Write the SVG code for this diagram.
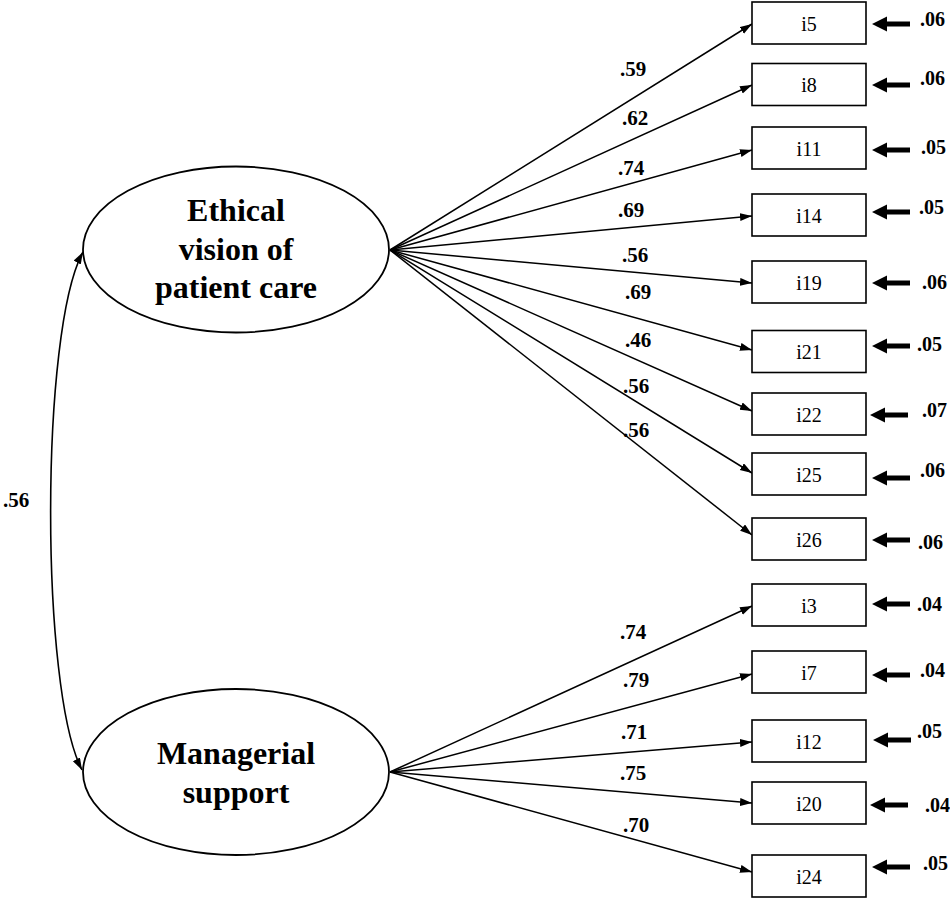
<svg xmlns="http://www.w3.org/2000/svg" width="950" height="899" viewBox="0 0 950 899">
  <style>
    .latent { fill: #fff; stroke: #000; stroke-width: 1.8; }
    .latent-label { font-family: "Liberation Serif", "Times New Roman", serif; font-weight: bold; font-size: 32px; text-anchor: middle; fill: #000; }
    .item { fill: #fff; stroke: #000; stroke-width: 1.6; }
    .item-label { font-family: "Liberation Serif", "Times New Roman", serif; font-size: 20px; text-anchor: middle; fill: #000; }
    .load { fill: none; stroke: #000; stroke-width: 1.5; marker-end: url(#tip); }
    .coef { font-family: "Liberation Serif", "Times New Roman", serif; font-weight: bold; font-size: 21px; fill: #000; }
    .err { font-family: "Liberation Serif", "Times New Roman", serif; font-weight: bold; font-size: 20px; fill: #000; }
    .cov { fill: none; stroke: #000; stroke-width: 1.6; marker-start: url(#tipStart); marker-end: url(#tip); }
  </style>
  <defs>
    <marker id="tip" markerUnits="userSpaceOnUse" markerWidth="13" markerHeight="9" refX="12" refY="4" orient="auto">
      <path d="M0,0 L12,4 L0,8 Z" fill="#000"/>
    </marker>
    <marker id="tipStart" markerUnits="userSpaceOnUse" markerWidth="13" markerHeight="9" refX="12" refY="4" orient="auto-start-reverse">
      <path d="M0,0 L12,4 L0,8 Z" fill="#000"/>
    </marker>
    <!-- thick residual arrow, tip at the origin pointing left -->
    <path id="errArrow" d="M0,0 L15,-7.5 L15,-2.6 L38,-2.6 L38,2.6 L15,2.6 L15,7.5 Z" fill="#000"/>
  </defs>

  <!-- connectors -->
  <g id="connectors">
    <path class="cov" d="M83,252 C40,330 40,690 82,770"/>
    <text class="coef" x="3" y="507">.56</text>

    <line class="load" x1="390" y1="250" x2="752" y2="24"/>
    <line class="load" x1="390" y1="250" x2="752" y2="85"/>
    <line class="load" x1="390" y1="250" x2="752" y2="150"/>
    <line class="load" x1="390" y1="250" x2="752" y2="216"/>
    <line class="load" x1="390" y1="250" x2="752" y2="283"/>
    <line class="load" x1="390" y1="250" x2="752" y2="350"/>
    <line class="load" x1="390" y1="250" x2="752" y2="411"/>
    <line class="load" x1="390" y1="250" x2="752" y2="473"/>
    <line class="load" x1="390" y1="250" x2="752" y2="535"/>

    <line class="load" x1="390" y1="772" x2="752" y2="606"/>
    <line class="load" x1="390" y1="772" x2="752" y2="674"/>
    <line class="load" x1="390" y1="772" x2="752" y2="742"/>
    <line class="load" x1="390" y1="772" x2="752" y2="803"/>
    <line class="load" x1="390" y1="772" x2="752" y2="872"/>

    <text class="coef" x="620" y="76">.59</text>
    <text class="coef" x="622" y="125">.62</text>
    <text class="coef" x="618" y="175">.74</text>
    <text class="coef" x="618" y="217">.69</text>
    <text class="coef" x="622" y="262">.56</text>
    <text class="coef" x="625" y="299">.69</text>
    <text class="coef" x="625" y="347">.46</text>
    <text class="coef" x="623" y="393">.56</text>
    <text class="coef" x="623" y="437">.56</text>

    <text class="coef" x="620" y="639">.74</text>
    <text class="coef" x="623" y="687">.79</text>
    <text class="coef" x="621" y="739">.71</text>
    <text class="coef" x="620" y="780">.75</text>
    <text class="coef" x="623" y="832">.70</text>

    <!-- residual arrows -->
    <use href="#errArrow" x="872" y="24"/>
    <use href="#errArrow" x="872" y="85"/>
    <use href="#errArrow" x="872" y="150"/>
    <use href="#errArrow" x="872" y="212"/>
    <use href="#errArrow" x="872" y="283"/>
    <use href="#errArrow" x="872" y="346"/>
    <use href="#errArrow" x="870" y="415"/>
    <use href="#errArrow" x="872" y="478"/>
    <use href="#errArrow" x="872" y="540"/>
    <use href="#errArrow" x="872" y="604"/>
    <use href="#errArrow" x="872" y="675"/>
    <use href="#errArrow" x="873" y="740"/>
    <use href="#errArrow" x="870" y="805"/>
    <use href="#errArrow" x="872" y="867"/>

    <text class="err" x="920" y="26">.06</text>
    <text class="err" x="920" y="85">.06</text>
    <text class="err" x="921" y="154">.05</text>
    <text class="err" x="919" y="214">.05</text>
    <text class="err" x="922" y="289">.06</text>
    <text class="err" x="917" y="351">.05</text>
    <text class="err" x="922" y="417">.07</text>
    <text class="err" x="920" y="477">.06</text>
    <text class="err" x="918" y="549">.06</text>
    <text class="err" x="917" y="611">.04</text>
    <text class="err" x="920" y="677">.04</text>
    <text class="err" x="917" y="738">.05</text>
    <text class="err" x="925" y="812">.04</text>
    <text class="err" x="923" y="870">.05</text>
  </g>

  <!-- latent factors -->
  <g id="ethical-vision">
    <ellipse class="latent" cx="236" cy="249.5" rx="153" ry="83"/>
    <text class="latent-label" x="236" y="221">Ethical</text>
    <text class="latent-label" x="236" y="260">vision of</text>
    <text class="latent-label" x="236" y="298">patient care</text>
  </g>
  <g id="managerial-support">
    <ellipse class="latent" cx="236" cy="772" rx="153" ry="83"/>
    <text class="latent-label" x="236" y="764">Managerial</text>
    <text class="latent-label" x="236" y="803">support</text>
  </g>

  <!-- observed items -->
  <g id="i5"><rect class="item" x="752" y="2" width="114" height="42"/><text class="item-label" x="809" y="30.5">i5</text></g>
  <g id="i8"><rect class="item" x="752" y="63.5" width="114" height="42"/><text class="item-label" x="809" y="92">i8</text></g>
  <g id="i11"><rect class="item" x="752" y="127" width="114" height="42"/><text class="item-label" x="809" y="155.5">i11</text></g>
  <g id="i14"><rect class="item" x="752" y="194" width="114" height="42"/><text class="item-label" x="809" y="222.5">i14</text></g>
  <g id="i19"><rect class="item" x="752" y="261" width="114" height="42"/><text class="item-label" x="809" y="289.5">i19</text></g>
  <g id="i21"><rect class="item" x="752" y="330.5" width="114" height="42"/><text class="item-label" x="809" y="359">i21</text></g>
  <g id="i22"><rect class="item" x="752" y="393" width="114" height="42"/><text class="item-label" x="809" y="421.5">i22</text></g>
  <g id="i25"><rect class="item" x="752" y="453" width="114" height="42"/><text class="item-label" x="809" y="481.5">i25</text></g>
  <g id="i26"><rect class="item" x="752" y="518" width="114" height="42"/><text class="item-label" x="809" y="546.5">i26</text></g>
  <g id="i3"><rect class="item" x="752" y="584" width="114" height="42"/><text class="item-label" x="809" y="612.5">i3</text></g>
  <g id="i7"><rect class="item" x="752" y="651" width="114" height="42"/><text class="item-label" x="809" y="679.5">i7</text></g>
  <g id="i12"><rect class="item" x="752" y="720" width="114" height="42"/><text class="item-label" x="809" y="748.5">i12</text></g>
  <g id="i20"><rect class="item" x="752" y="782" width="114" height="42"/><text class="item-label" x="809" y="810.5">i20</text></g>
  <g id="i24"><rect class="item" x="752" y="855" width="114" height="42"/><text class="item-label" x="809" y="883.5">i24</text></g>
</svg>
